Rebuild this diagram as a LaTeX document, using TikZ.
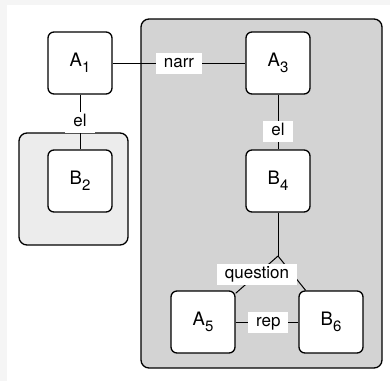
\documentclass[tikz,border=0pt]{standalone}
\usepackage{fontspec}
\setmainfont{TeX Gyre Heros}
\definecolor{margingray}{RGB}{245,245,245}
\definecolor{darkgroup}{RGB}{211,211,211}
\definecolor{lightgroup}{RGB}{236,236,236}
\newcommand{\nsub}[1]{\raisebox{-6pt}{\fontsize{15}{15}\selectfont #1}}

\begin{document}
\begin{tikzpicture}
  [x=1pt,y=-1pt,line width=1pt,
   every node/.style={font=\fontsize{17}{20}\selectfont},
   unit/.style={draw,line width=1.3pt,rounded corners=6pt,fill=white,minimum width=64pt,minimum height=62pt,inner sep=0pt,font=\fontsize{18.5}{20}\selectfont},
   rel/.style={fill=white,inner xsep=8pt,inner ysep=2.5pt,text height=12pt,text depth=4pt},
   group/.style={draw,line width=1.3pt,rounded corners=8pt}]
  \useasboundingbox (0,0) rectangle (390,381);
  \fill[margingray] (0,0) rectangle (7,381);
  \fill[margingray] (7,0) rectangle (390,5);

  % containers
  \path[group,fill=lightgroup] (19,133) rectangle (128,245);
  \path[group,fill=darkgroup] (141,19) rectangle (382,368);

  \node[unit] (a1) at (80,63) {A\nsub{1}};
  \node[unit] (b2) at (80,181) {B\nsub{2}};
  \node[unit] (a3) at (278,63) {A\nsub{3}};
  \node[unit] (b4) at (278,181) {B\nsub{4}};
  \node[unit] (a5) at (203,322) {A\nsub{5}};
  \node[unit] (b6) at (331,322) {B\nsub{6}};
  \coordinate (j) at (278,256);

 \path[-,draw]
    (a1) edge node[rel] {narr} (a3)
    (a1) edge node[rel] {el} (b2)
    (a3) edge node[rel,pos=.68] {el} (b4)
    (a5) edge node[rel,pos=.52] {rep} (b6)
    (b4) edge (j)
    (j) edge (a5)
    (j) edge (b6)
    ;
  \node[rel] (q) at (257,274) {question};

\end{tikzpicture}
\end{document}
